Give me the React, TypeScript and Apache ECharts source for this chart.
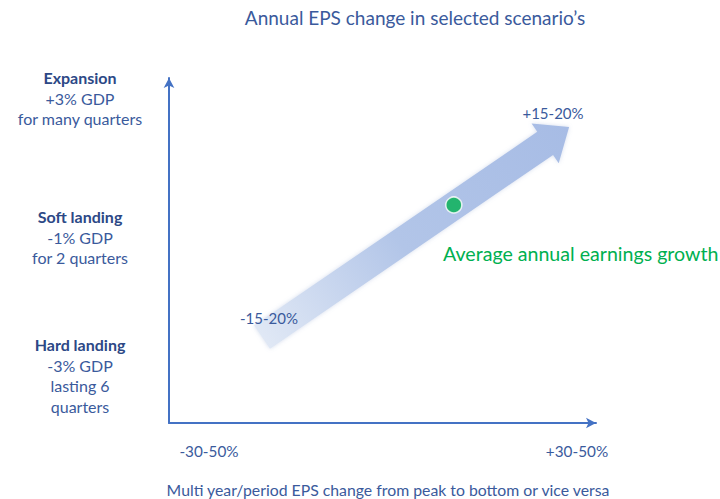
import React, { useEffect, useRef } from 'react';
import * as echarts from 'echarts';

const titleText = 'Annual EPS change in selected scenario’s';
const scenarioNames = ['Expansion', 'Soft landing', 'Hard landing'];
const scenarioDetails = [
  ['+3% GDP', 'for many quarters'],
  ['-1% GDP', 'for 2 quarters'],
  ['-3% GDP', 'lasting 6', 'quarters'],
];
const xTickLabels = ['-30-50%', '+30-50%'];
const xAxisTitle = 'Multi year/period EPS change from peak to bottom or vice versa';
const arrowStart = [21.8, 24.9];
const arrowEnd = [93.7, 85.8];
const arrowLabels = ['-15-20%', '+15-20%'];
const averagePoint = [66.7, 63.2];
const averageLabel = 'Average annual earnings growth';

const FONT = 'Lato, "Open Sans", sans-serif';
const AXIS_BLUE = '#4472c4';
const TEXT_BLUE = '#3a5a9c';
const TEXT_DARK = '#2c4886';

export default function App() {
  const ref = useRef<HTMLDivElement>(null);
  useEffect(() => {
    document.body.style.margin = '0';
    if (!ref.current) return;
    const chart = echarts.init(ref.current, null, { renderer: 'svg' });

    const scenarioY = [78, 217, 345];
    const scenarioGraphics = scenarioNames.map((name, i) => ({
      type: 'text',
      x: 80,
      y: scenarioY[i] - 10.5,
      z: 10,
      style: {
        text: [`{b|${name}}`, ...scenarioDetails[i].map((d) => `{n|${d}}`)].join('\n'),
        textAlign: 'center',
        textVerticalAlign: 'top',
        rich: {
          b: { fontFamily: FONT, fontSize: 16, fontWeight: 'bold', fill: TEXT_DARK, lineHeight: 20.5, align: 'center' },
          n: { fontFamily: FONT, fontSize: 16, fill: TEXT_BLUE, lineHeight: 20.5, align: 'center' },
        },
      },
    }));

    const txt = (text: string, x: number, y: number, size: number, fill = TEXT_BLUE, align = 'center') => ({
      type: 'text', x, y, z: 10,
      style: { text, textAlign: align, textVerticalAlign: 'middle', fontFamily: FONT, fontSize: size, fill },
    });

    const option: any = {
      animation: false,
      grid: { left: 169, right: 124, top: 78, bottom: 76 },
      xAxis: {
        type: 'value', min: 0, max: 100,
        splitLine: { show: false }, axisTick: { show: false }, axisLabel: { show: false },
        axisLine: { show: true, symbol: ['none', 'arrow'], symbolSize: [8, 10], lineStyle: { color: AXIS_BLUE, width: 2 } },
      },
      yAxis: {
        type: 'value', min: 0, max: 100,
        splitLine: { show: false }, axisTick: { show: false }, axisLabel: { show: false },
        axisLine: { show: true, symbol: ['none', 'arrow'], symbolSize: [8, 10], lineStyle: { color: AXIS_BLUE, width: 2 } },
      },
      series: [
        {
          type: 'custom',
          coordinateSystem: 'cartesian2d',
          encode: { x: [0, 2], y: [1, 3] },
          data: [[arrowStart[0], arrowStart[1], arrowEnd[0], arrowEnd[1]]],
          renderItem: (params: any, api: any) => {
            const p0 = api.coord([api.value(0), api.value(1)]);
            const p1 = api.coord([api.value(2), api.value(3)]);
            const dx = p1[0] - p0[0];
            const dy = p1[1] - p0[1];
            const len = Math.hypot(dx, dy);
            const ux = dx / len, uy = dy / len;
            const nx = -uy, ny = ux;
            const sw = 14, hw = 24, hl = 29;
            const bx = p1[0] - ux * hl, by = p1[1] - uy * hl;
            const pts = [
              [p0[0] + nx * sw, p0[1] + ny * sw],
              [bx + nx * sw, by + ny * sw],
              [bx + nx * hw, by + ny * hw],
              [p1[0], p1[1]],
              [bx - nx * hw, by - ny * hw],
              [bx - nx * sw, by - ny * sw],
              [p0[0] - nx * sw, p0[1] - ny * sw],
            ];
            return {
              type: 'polygon',
              shape: { points: pts },
              style: {
                fill: new echarts.graphic.LinearGradient(p0[0], p0[1], p1[0], p1[1], [
                  { offset: 0, color: '#e0e8f5' },
                  { offset: 0.45, color: '#b2c5e8' },
                  { offset: 1, color: '#a7bce5' },
                ], true),
                shadowBlur: 4,
                shadowColor: 'rgba(150,170,210,0.4)',
              },
            };
          },
          z: 2,
        },
        {
          type: 'scatter',
          data: [averagePoint],
          symbolSize: 16,
          itemStyle: { color: '#00b050', borderColor: '#ffffff', borderWidth: 1.5 },
          z: 3,
        },
      ],
      graphic: [
        txt(titleText, 415, 17, 19),
        ...scenarioGraphics,
        txt(xTickLabels[0], 209, 451, 15.3),
        txt(xTickLabels[1], 577, 451, 15.3),
        txt(xAxisTitle, 388, 489, 15.8),
        txt(arrowLabels[0], 269, 318, 15),
        txt(arrowLabels[1], 553, 113, 15),
        txt(averageLabel, 443, 253, 19.6, '#00b050', 'left'),
      ],
    };
    chart.setOption(option);
    return () => chart.dispose();
  }, []);
  return <div ref={ref} style={{ width: 720, height: 499 }} />;
}
